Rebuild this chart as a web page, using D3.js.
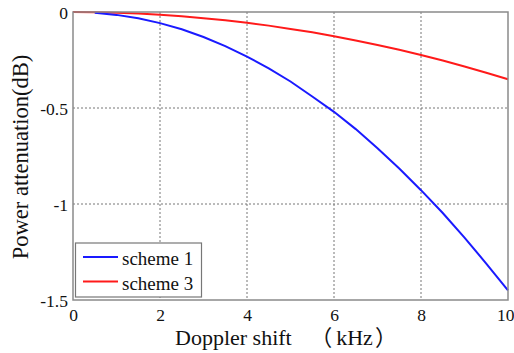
<!DOCTYPE html>
<html>
<head>
<meta charset="utf-8">
<script src="https://cdn.jsdelivr.net/npm/d3@7"></script>
<style>
  html, body { margin: 0; padding: 0; background: #fff; }
  svg { display: block; }
  text, tspan { font-family: "Liberation Serif", "Times New Roman", serif; fill: #111; }
  tspan.cjk { font-family: "Noto Sans CJK SC", sans-serif; }
</style>
</head>
<body>
<svg id="chart" width="514" height="353"></svg>
<script>
// Doppler shift (kHz)
const shiftScheme1 = [0.5, 1, 1.5, 2, 2.5, 3, 3.5, 4, 4.5, 5, 5.5, 6, 6.5, 7, 7.5, 8, 8.5, 9, 9.5, 10];
// Power attenuation (dB), scheme 1
const attenScheme1 = [-0.004, -0.015, -0.033, -0.058, -0.09, -0.13, -0.178, -0.232, -0.294, -0.362,
                      -0.44, -0.52, -0.61, -0.71, -0.815, -0.928, -1.047, -1.175, -1.31, -1.45];
const shiftScheme3 = [0, 0.5, 1, 1.5, 2, 2.5, 3, 3.5, 4, 4.5, 5, 5.5, 6, 6.5, 7, 7.5, 8, 8.5, 9, 9.5, 10];
// Power attenuation (dB), scheme 3
const attenScheme3 = [0, -0.001, -0.0035, -0.008, -0.014, -0.022, -0.032, -0.043, -0.056, -0.071, -0.088,
                      -0.106, -0.126, -0.148, -0.172, -0.197, -0.224, -0.253, -0.284, -0.316, -0.35];
const xTicks = [0, 2, 4, 6, 8, 10];
const yTicks = [0, -0.5, -1, -1.5];
const seriesNames = ["scheme 1", "scheme 3"];
const seriesColors = ["#1a1aff", "#ff1a1a"];

const serif = '"Liberation Serif", "Times New Roman", serif';
const svg = d3.select("#chart");
const plotL = 73, plotR = 508, plotT = 12, plotB = 300;

const x = d3.scaleLinear().domain([0, 10]).range([plotL, plotR]);
const y = d3.scaleLinear().domain([-1.5, 0]).range([plotB, plotT]);

// dotted grid
const grid = svg.append("g");
grid.selectAll("line.gx").data(xTicks.slice(1, -1)).join("line")
  .attr("x1", d => x(d)).attr("x2", d => x(d))
  .attr("y1", plotT).attr("y2", plotB)
  .attr("stroke", "#777").attr("stroke-width", 1).attr("stroke-dasharray", "2,2");
grid.selectAll("line.gy").data(yTicks.slice(1, -1)).join("line")
  .attr("x1", plotL).attr("x2", plotR)
  .attr("y1", d => y(d)).attr("y2", d => y(d))
  .attr("stroke", "#777").attr("stroke-width", 1).attr("stroke-dasharray", "2,2");

// axes
const xAxis = svg.append("g").attr("transform", `translate(0,${plotB})`)
  .call(d3.axisBottom(x).tickValues(xTicks).tickSize(0).tickPadding(9).tickFormat(d3.format("d")));
const yAxis = svg.append("g").attr("transform", `translate(${plotL},0)`)
  .call(d3.axisLeft(y).tickValues(yTicks).tickSize(0).tickPadding(5).tickFormat(d => d === 0 ? "0" : String(d)));
[xAxis, yAxis].forEach(g => {
  g.attr("font-family", null).attr("font-size", null);
  g.select(".domain").remove();
  g.selectAll("text").style("font-family", serif).style("font-size", "17.5px").attr("fill", "#111");
});
yAxis.selectAll("text").attr("dy", "0.36em");
// last x label sits at the right edge of the canvas
xAxis.selectAll(".tick").filter(d => d === 10).select("text")
  .attr("text-anchor", "end").attr("x", 514 - plotR);

// curves
const line = d3.line().x(d => x(d[0])).y(d => y(d[1]));
const series = [
  d3.zip(shiftScheme1, attenScheme1),
  d3.zip(shiftScheme3, attenScheme3)
];
svg.append("path").datum(series[1]).attr("d", line)
  .attr("fill", "none").attr("stroke", seriesColors[1]).attr("stroke-width", 2);
svg.append("path").datum(series[0]).attr("d", line)
  .attr("fill", "none").attr("stroke", seriesColors[0]).attr("stroke-width", 2);

// frame
svg.append("rect").attr("x", plotL).attr("y", plotT)
  .attr("width", plotR - plotL).attr("height", plotB - plotT)
  .attr("fill", "none").attr("stroke", "#8a8a8a").attr("stroke-width", 1.5);

// axis titles
const xt = svg.append("text").attr("x", 175).attr("y", 345).style("font-size", "22px");
xt.append("tspan").text("Doppler shift ");
xt.append("tspan").attr("class", "cjk").attr("dx", 13).text("（");
xt.append("tspan").attr("dx", 4).text("kHz");
xt.append("tspan").attr("class", "cjk").attr("dx", 2).text("）");
svg.append("text").attr("transform", `translate(28,157) rotate(-90)`).attr("text-anchor", "middle")
  .style("font-size", "22.5px").text("Power attenuation(dB)");

// legend
const lg = svg.append("g");
lg.append("rect").attr("x", 75.5).attr("y", 243).attr("width", 126).attr("height", 54)
  .attr("fill", "#fff").attr("stroke", "#777").attr("stroke-width", 1.2);
seriesNames.forEach((name, i) => {
  const ly = 257 + i * 24.5;
  lg.append("line").attr("x1", 83).attr("x2", 118).attr("y1", ly).attr("y2", ly)
    .attr("stroke", seriesColors[i]).attr("stroke-width", 2);
  lg.append("text").attr("x", 122).attr("y", ly + 8).style("font-size", "19px").text(name);
});
</script>
</body>
</html>
